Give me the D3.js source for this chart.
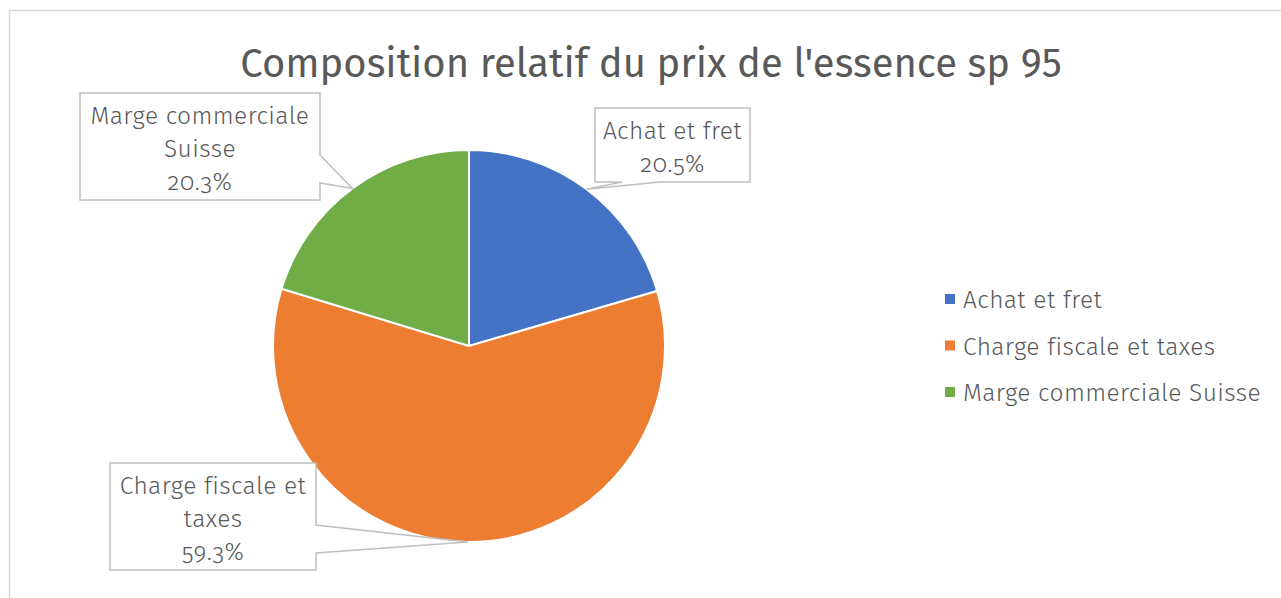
<!DOCTYPE html>
<html>
<head>
<meta charset="utf-8">
<script src="https://cdn.jsdelivr.net/npm/d3@7"></script>
<style>
  body { margin: 0; background: #fff; }
  text { font-family: "Fira Sans", Lato, "Open Sans", sans-serif; fill: #595959; }
  .small { font-size: 24.5px; letter-spacing: 0.4px; font-weight: 300; font-variant-numeric: oldstyle-nums; }
</style>
</head>
<body>
<svg id="chart" width="1281" height="598"></svg>
<script>
    // data
    const categories = ["Achat et fret", "Charge fiscale et taxes", "Marge commerciale Suisse"];
    const shares = [20.5, 59.3, 20.3];
    const colors = ["#4472c4", "#ed7d31", "#70ad47"];
    const labelLines = [["Achat et fret"], ["Charge fiscale et", "taxes"], ["Marge commerciale", "Suisse"]];
    const pctLabels = ["20.5%", "59.3%", "20.3%"];

    const svg = d3.select("#chart");

    // chart frame
    svg.append("rect")
        .attr("x", 9.5).attr("y", 10.5)
        .attr("width", 1300).attr("height", 600)
        .attr("fill", "none")
        .attr("stroke", "#d9d9d9")
        .attr("stroke-width", 1.5);

    svg.append("text")
        .attr("x", 651).attr("y", 77)
        .attr("text-anchor", "middle")
        .style("font-size", "40px")
        .text("Composition relatif du prix de l'essence sp 95");

    const cx = 469, cy = 346, radius = 196;

    const pie = d3.pie().sort(null).value(d => d);
    const arcs = pie(shares);
    const arc = d3.arc().innerRadius(0).outerRadius(radius);

    const g = svg.append("g").attr("transform", `translate(${cx},${cy})`);
    g.selectAll("path.slice")
        .data(arcs)
        .enter().append("path")
        .attr("class", "slice")
        .attr("d", arc)
        .attr("fill", (d, i) => colors[i])
        .attr("stroke", "#fff")
        .attr("stroke-width", 2);

    // callout boxes: x, y, w, h and which side the pointer leaves from
    const boxes = [
        { x: 595, y: 108, w: 155, h: 74, side: "bottom", a: 622, b: 660 },
        { x: 110, y: 463, w: 206, h: 107, side: "right", a: 525, b: 553 },
        { x: 80, y: 93, w: 240, h: 107, side: "right", a: 155, b: 183 }
    ];

    function tipPoint(d) {
        const mid = (d.startAngle + d.endAngle) / 2;
        return [cx + radius * Math.sin(mid), cy - radius * Math.cos(mid)];
    }

    function calloutPath(bx, tip) {
        const x0 = bx.x, y0 = bx.y, x1 = bx.x + bx.w, y1 = bx.y + bx.h;
        let pts;
        if (bx.side === "right") {
            pts = [[x0, y0], [x1, y0], [x1, bx.a], tip, [x1, bx.b], [x1, y1], [x0, y1]];
        } else {
            pts = [[x0, y0], [x1, y0], [x1, y1], [bx.b, y1], tip, [bx.a, y1], [x0, y1]];
        }
        return d3.line()(pts) + "Z";
    }

    const callouts = svg.selectAll("g.callout")
        .data(arcs)
        .enter().append("g")
        .attr("class", "callout");

    callouts.append("path")
        .attr("d", (d, i) => calloutPath(boxes[i], tipPoint(d)))
        .attr("fill", "#fff")
        .attr("stroke", "#bfbfbf")
        .attr("stroke-width", 1.5);

    callouts.each(function (d, i) {
        const bx = boxes[i];
        const lines = labelLines[i].concat([pctLabels[i]]);
        const lh = 33;
        const top = bx.y + bx.h / 2 - (lines.length - 1) * lh / 2;
        const t = d3.select(this).append("text")
            .attr("class", "small")
            .attr("text-anchor", "middle");
        lines.forEach((ln, j) => {
            t.append("tspan")
                .attr("x", bx.x + bx.w / 2)
                .attr("y", top + j * lh + 10.5)
                .text(ln);
        });
    });

    // legend
    const legend = svg.selectAll("g.legend")
        .data(categories)
        .enter().append("g")
        .attr("class", "legend")
        .attr("transform", (d, i) => `translate(945,${299 + i * 46.5})`);

    legend.append("rect")
        .attr("x", 0).attr("y", -5)
        .attr("width", 10).attr("height", 10)
        .attr("fill", (d, i) => colors[i]);

    legend.append("text")
        .attr("class", "small")
        .attr("x", 18).attr("y", 9)
        .text(d => d);
</script>
</body>
</html>
